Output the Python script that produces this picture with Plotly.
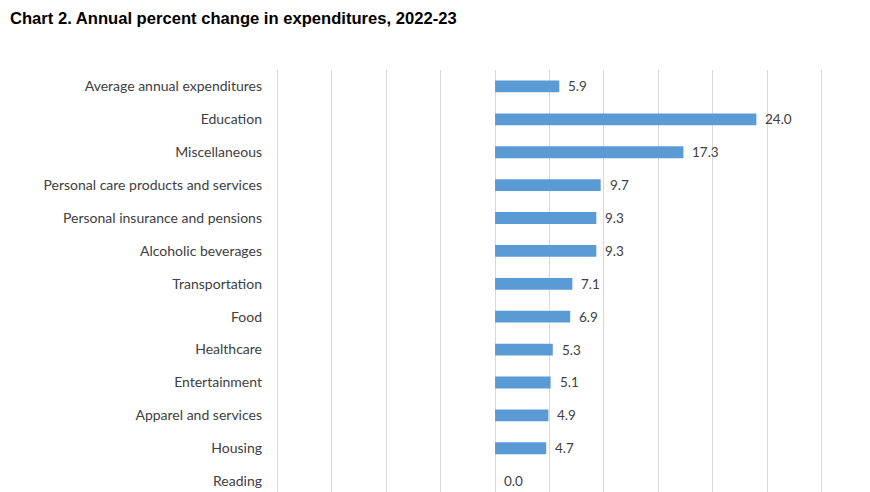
import plotly.graph_objects as go

categories = [
    "Average annual expenditures", "Education", "Miscellaneous",
    "Personal care products and services", "Personal insurance and pensions",
    "Alcoholic beverages", "Transportation", "Food", "Healthcare",
    "Entertainment", "Apparel and services", "Housing", "Reading",
]
values = [5.9, 24.0, 17.3, 9.7, 9.3, 9.3, 7.1, 6.9, 5.3, 5.1, 4.9, 4.7, 0.0]
value_labels = [f"{v:.1f}" for v in values]

fig = go.Figure()
fig.add_trace(go.Bar(
    x=values, y=categories, orientation="h",
    marker=dict(color="#5B9BD5", line=dict(width=0)),
    hoverinfo="skip",
))

for v, c, t in zip(values, categories, value_labels):
    fig.add_annotation(
        x=v, y=c, text=t, showarrow=False, xanchor="left", xshift=7,
        font=dict(family="Lato, Open Sans, sans-serif", size=13.5, color="#404040"),
    )

fig.update_layout(
    width=870, height=492,
    margin=dict(l=273.7, r=44.7, t=70, b=0),
    paper_bgcolor="white", plot_bgcolor="white",
    bargap=0.64,
    showlegend=False,
    title=dict(
        text="<b>Chart 2. Annual percent change in expenditures, 2022-23</b>",
        x=0.0115, xanchor="left", y=0.963, yanchor="middle",
        font=dict(family="Liberation Sans, Arial, sans-serif", size=16.6, color="#000000"),
    ),
    xaxis=dict(
        range=[-20.3, 30.3], dtick=5, tick0=0,
        showgrid=True, gridcolor="#D9D9D9", gridwidth=1.3,
        showticklabels=False, zeroline=False, showline=False, ticks="",
    ),
    yaxis=dict(
        categoryorder="array", categoryarray=categories,
        range=[12.33, -0.5],
        showgrid=False, zeroline=False, showline=False, ticks="",
        ticklabelstandoff=11,
        tickfont=dict(family="Lato, Open Sans, sans-serif", size=14, color="#404040"),
    ),
)

fig.write_html(
    "out.html",
    config={"displayModeBar": False},
    post_script="document.body.style.margin='0';document.body.style.overflow='hidden';",
)
